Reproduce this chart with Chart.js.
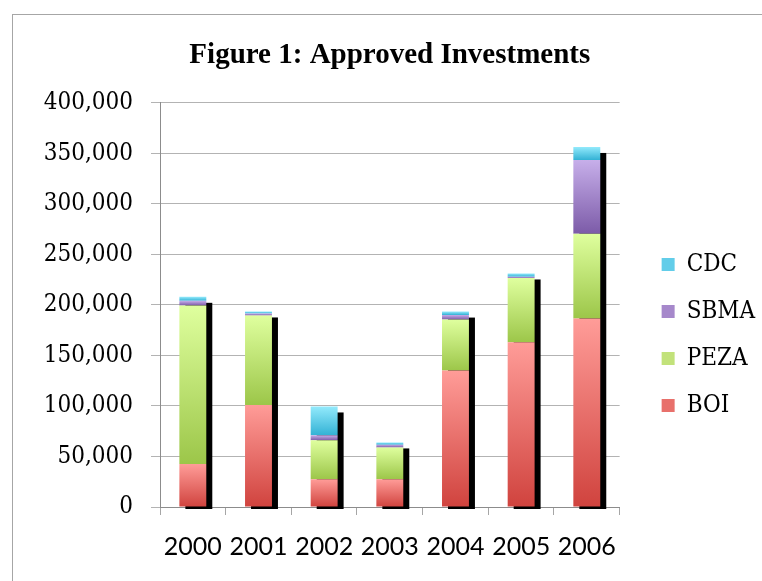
<!DOCTYPE html>
<html>
<head>
<meta charset="utf-8">
<title>Figure 1: Approved Investments</title>
<script src="https://cdn.jsdelivr.net/npm/chart.js@4/dist/chart.umd.min.js"></script>
<style>
    html, body { margin: 0; padding: 0; background: #fff; overflow: hidden; }
    .frame { position: absolute; left: 12px; top: 14px; width: 900px; height: 700px;
             border-left: 1px solid #a6a6a6; border-top: 1px solid #a6a6a6; }
    #chart { position: absolute; left: 0; top: 0; }
</style>
</head>
<body>
<div class="frame"></div>
<canvas id="chart" width="762" height="581"></canvas>
<script>
const years = ['2000', '2001', '2002', '2003', '2004', '2005', '2006'];
const boi  = [42500, 101000, 27500, 27500, 135000, 163000, 186500];
const peza = [157000, 88500, 38500, 31500, 50500, 63500, 84000];
const sbma = [4500, 2000, 5000, 2700, 4600, 1300, 73000];
const cdc  = [4000, 2000, 28500, 2200, 3300, 3300, 12800];

// [top, bottom] of each segment's gradient, plus a flat colour for the legend box
const boiColors  = ['#ff9c98', '#d0433e', '#e8706b'];
const pezaColors = ['#dfff9e', '#9cc649', '#c2e27a'];
const sbmaColors = ['#c7afea', '#7c5ba8', '#a688cb'];
const cdcColors  = ['#93eafc', '#33b2d5', '#62cde9'];

const serif = "'DejaVu Serif Condensed', 'DejaVu Serif', serif";

function segmentFill(colors) {
    return (context) => {
        const chart = context.chart;
        if (!chart.chartArea || context.type !== 'data') return colors[2];
        const y = chart.scales.y;
        const i = context.dataIndex;
        let base = 0;
        for (let d = 0; d < context.datasetIndex; d++) {
            base += chart.data.datasets[d].data[i];
        }
        const top = base + context.raw;
        const g = chart.ctx.createLinearGradient(0, y.getPixelForValue(top), 0, y.getPixelForValue(base));
        g.addColorStop(0, colors[0]);
        g.addColorStop(1, colors[1]);
        return g;
    };
}

// black drop shadow behind every stacked column
const barShadow = {
    id: 'barShadow',
    beforeDatasetsDraw(chart) {
        const { ctx } = chart;
        const metas = chart.getSortedVisibleDatasetMetas();
        const topMeta = metas[metas.length - 1];
        const base = chart.scales.y.getPixelForValue(0);
        ctx.save();
        ctx.fillStyle = '#000';
        topMeta.data.forEach((bar) => {
            const { x, y, width } = bar.getProps(['x', 'y', 'width'], true);
            ctx.fillRect(x - width / 2 + 6, y + 6, width, base - y - 4);
        });
        ctx.restore();
    }
};

// move the legend a bit right and down, like the original
const legendOffset = {
    id: 'legendOffset',
    afterLayout(chart) {
        const l = chart.legend;
        l.left = chart.chartArea.right + 19;
        l.right = l.left + l.width;
        l.top += 30;
        l.bottom += 30;
    }
};

const datasets = [
    { label: 'BOI',  data: boi,  colors: boiColors },
    { label: 'PEZA', data: peza, colors: pezaColors },
    { label: 'SBMA', data: sbma, colors: sbmaColors },
    { label: 'CDC',  data: cdc,  colors: cdcColors }
].map(s => ({
    label: s.label,
    data: s.data,
    backgroundColor: segmentFill(s.colors),
    borderWidth: 0,
    categoryPercentage: 1,
    barPercentage: 0.41
}));

const legendFlat = [boiColors[2], pezaColors[2], sbmaColors[2], cdcColors[2]];

new Chart(document.getElementById('chart'), {
    type: 'bar',
    data: { labels: years, datasets: datasets },
    options: {
        responsive: false,
        animation: false,
        layout: { padding: { left: 0, right: 16, top: 0, bottom: 2 } },
        plugins: {
            title: {
                display: true,
                fullSize: false,
                text: 'Figure 1: Approved Investments',
                color: '#000',
                font: { family: "'Liberation Serif', 'Times New Roman', serif", size: 29, weight: 'bold' },
                padding: { top: 38, bottom: 30 }
            },
            legend: {
                position: 'right',
                fullSize: false,
                reverse: true,
                labels: {
                    color: '#000',
                    font: { family: serif, size: 24 },
                    boxWidth: 13,
                    boxHeight: 13,
                    padding: 23,
                    generateLabels: (chart) =>
                        Chart.defaults.plugins.legend.labels.generateLabels(chart).map(item => ({
                            ...item,
                            fillStyle: legendFlat[item.datasetIndex],
                            strokeStyle: legendFlat[item.datasetIndex],
                            lineWidth: 0
                        }))
                }
            },
            tooltip: { enabled: false }
        },
        scales: {
            x: {
                stacked: true,
                grid: { drawOnChartArea: false, drawTicks: true, tickLength: 8, offset: true, color: '#a6a6a6' },
                border: { color: '#8c8c8c' },
                ticks: { color: '#000', padding: 17, font: { family: "Lato, 'Open Sans', sans-serif", size: 25 } }
            },
            y: {
                stacked: true,
                min: 0,
                max: 400000,
                ticks: { stepSize: 50000, color: '#000', padding: 18, font: { family: serif, size: 24 } },
                grid: { color: '#b3b3b3', tickLength: 9 },
                border: { color: '#8c8c8c' },
                afterFit: (scale) => { scale.width = 160; }
            }
        }
    },
    plugins: [barShadow, legendOffset]
});
</script>
</body>
</html>
